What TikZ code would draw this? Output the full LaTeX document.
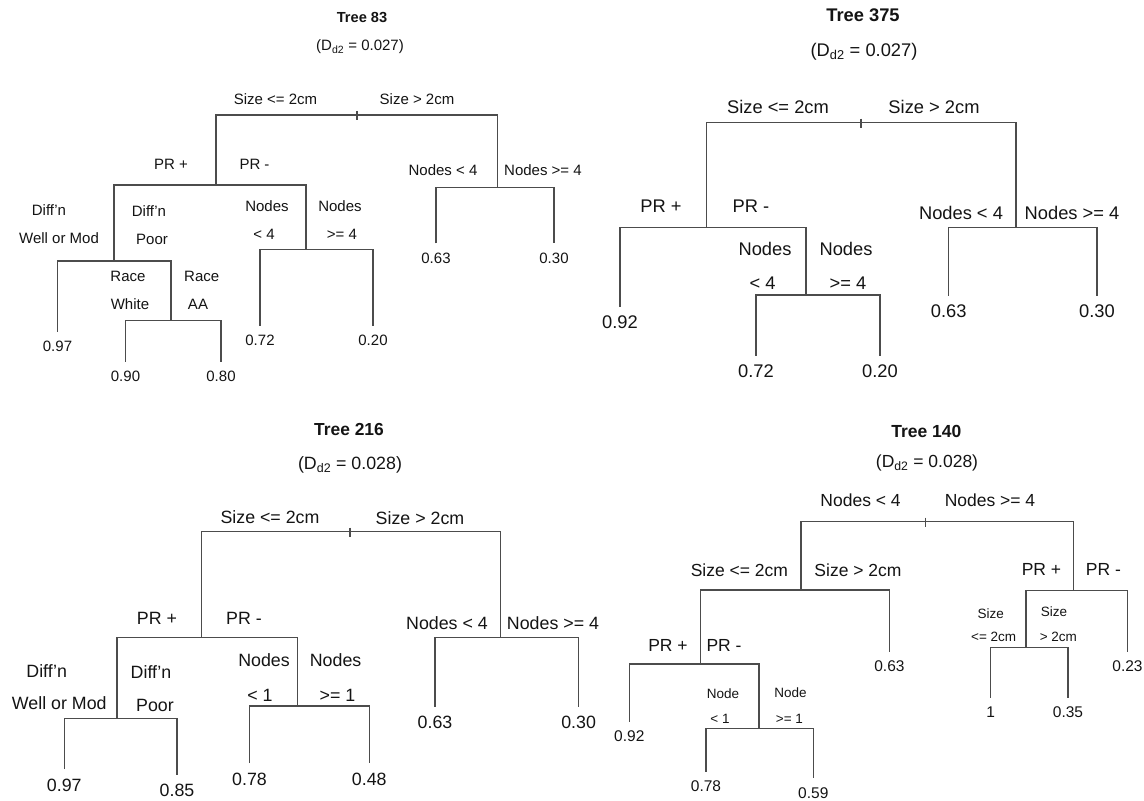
\documentclass[tikz,border=0pt]{standalone}
\usepackage{fontspec}
\setmainfont{Liberation Sans}
\newcommand{\fsz}[1]{\fontsize{#1}{#1}\selectfont}
\definecolor{drawColor}{gray}{0.30}
\definecolor{textColor}{gray}{0.08}
\tikzset{
  split/.style={draw=drawColor, line width=1.3pt},
  lab/.style={text=textColor, inner sep=0pt, outer sep=0pt},
  leaf/.style={lab, anchor=north, outer ysep=9.5pt},
}
\begin{document}
\begin{tikzpicture}[x=1pt,y=1pt]
\path[use as bounding box,fill=white] (0,0) rectangle (1144.00,801.00);

% Tree 83 (top left)
\begin{scope}[font=\fsz{15}]
\node[lab] (h83) at (362.00,783.70) {\fsz{14.6}\bfseries Tree 83};
\node[lab] (d83) at (360.00,754.30) {(D\textsubscript{d2} = 0.027)};

\coordinate (r83) at (357.00,686.00);
\coordinate (pr83) at (216.00,616.00);
\coordinate (nd83) at (497.50,613.30);
\coordinate (df83) at (114.00,540.00);
\coordinate (ns83) at (306.00,551.70);
\coordinate (rc83) at (171.00,480.30);

\node[leaf] (l83a) at ( 57.50,469.20) {0.97};
\node[leaf] (l83b) at (125.50,439.20) {0.90};
\node[leaf] (l83c) at (221.00,439.20) {0.80};
\node[leaf] (l83d) at (260.00,475.20) {0.72};
\node[leaf] (l83e) at (373.00,475.20) {0.20};
\node[leaf] (l83f) at (436.00,557.60) {0.63};
\node[leaf] (l83g) at (554.00,557.60) {0.30};

\draw[split] (pr83) |- (r83) -| (nd83);
\draw[split] ([yshift=4pt]r83) -- ([yshift=-5pt]r83);
\draw[split] (df83) |- (pr83) -| (ns83);
\draw[split] (l83a.north) |- (df83) -| (rc83);
\draw[split] (l83b.north) |- (rc83) -| (l83c.north);
\draw[split] (l83d.north) |- (ns83) -| (l83e.north);
\draw[split] (l83f.north) |- (nd83) -| (l83g.north);

\node[lab] (e83a) at (275.50,701.50) {Size <= 2cm};
\node[lab] (e83b) at (417.00,701.50) {Size > 2cm};
\node[lab] (e83c) at (171.00,637.00) {PR +};
\node[lab] (e83d) at (254.50,637.00) {PR -};
\node[lab] (e83e) at (443.00,631.00) {Nodes < 4};
\node[lab] (e83f) at (543.00,631.00) {Nodes >= 4};
\node[lab] (e83g) at ( 49.00,591.00) {Diff'n};
\node[lab] (e83h) at ( 59.00,562.70) {Well or Mod};
\node[lab] (e83i) at (149.00,590.00) {Diff'n};
\node[lab] (e83j) at (152.00,561.70) {Poor};
\node[lab] (e83k) at (267.00,595.30) {Nodes};
\node[lab] (e83l) at (264.00,566.30) {< 4};
\node[lab] (e83m) at (340.00,595.30) {Nodes};
\node[lab] (e83n) at (342.00,566.30) {>= 4};
\node[lab] (e83o) at (128.00,524.30) {Race};
\node[lab] (e83p) at (130.00,496.70) {White};
\node[lab] (e83q) at (201.70,524.30) {Race};
\node[lab] (e83r) at (198.00,496.70) {AA};
\end{scope}

% Tree 375 (top right)
\begin{scope}[font=\fsz{18.3}]
\node[lab] (h375) at (863.00,786.00) {\bfseries Tree 375};
\node[lab] (d375) at (864.00,749.30) {(D\textsubscript{d2} = 0.027)};

\coordinate (r375) at (861.00,678.30);
\coordinate (pr375) at (706.60,573.30);
\coordinate (nd375) at (1016.00,573.30);
\coordinate (ns375) at (806.00,506.00);

\node[leaf] (l375a) at (620.00,494.40) {0.92};
\node[leaf] (l375b) at (756.00,445.40) {0.72};
\node[leaf] (l375c) at (880.00,445.40) {0.20};
\node[leaf] (l375d) at (948.70,505.40) {0.63};
\node[leaf] (l375e) at (1097.00,505.40) {0.30};

\draw[split] (pr375) |- (r375) -| (nd375);
\draw[split] ([yshift=4pt]r375) -- ([yshift=-5pt]r375);
\draw[split] (l375a.north) |- (pr375) -| (ns375);
\draw[split] (l375b.north) |- (ns375) -| (l375c.north);
\draw[split] (l375d.north) |- (nd375) -| (l375e.north);

\node[lab] (e375a) at (778.00,693.70) {Size <= 2cm};
\node[lab] (e375b) at (934.00,693.70) {Size > 2cm};
\node[lab] (e375c) at (661.00,594.30) {PR +};
\node[lab] (e375d) at (751.00,594.30) {PR -};
\node[lab] (e375e) at (961.00,587.70) {Nodes < 4};
\node[lab] (e375f) at (1072.00,587.70) {Nodes >= 4};
\node[lab] (e375g) at (765.00,551.70) {Nodes};
\node[lab] (e375h) at (762.70,517.70) {< 4};
\node[lab] (e375i) at (846.00,551.70) {Nodes};
\node[lab] (e375j) at (848.00,517.70) {>= 4};
\end{scope}

% Tree 216 (bottom left)
\begin{scope}[font=\fsz{17.8}]
\node[lab] (h216) at (349.00,371.00) {\fsz{17.4}\bfseries Tree 216};
\node[lab] (d216) at (350.00,336.00) {(D\textsubscript{d2} = 0.028)};

\coordinate (r216) at (350.00,269.30);
\coordinate (pr216) at (201.70,163.30);
\coordinate (nd216) at (500.60,163.30);
\coordinate (df216) at (117.00, 82.70);
\coordinate (ns216) at (297.50, 95.00);

\node[leaf] (l216a) at ( 64.30, 31.90) {0.97};
\node[leaf] (l216b) at (177.00, 26.20) {0.85};
\node[leaf] (l216c) at (249.50, 37.90) {0.78};
\node[leaf] (l216d) at (369.30, 37.90) {0.48};
\node[leaf] (l216e) at (435.00, 94.20) {0.63};
\node[leaf] (l216f) at (578.60, 94.20) {0.30};

\draw[split] (pr216) |- (r216) -| (nd216);
\draw[split] ([yshift=4pt]r216) -- ([yshift=-5pt]r216);
\draw[split] (df216) |- (pr216) -| (ns216);
\draw[split] (l216a.north) |- (df216) -| (l216b.north);
\draw[split] (l216c.north) |- (ns216) -| (l216d.north);
\draw[split] (l216e.north) |- (nd216) -| (l216f.north);

\node[lab] (e216a) at (270.00,284.00) {Size <= 2cm};
\node[lab] (e216b) at (420.00,283.00) {Size > 2cm};
\node[lab] (e216c) at (157.00,182.70) {PR +};
\node[lab] (e216d) at (244.00,182.70) {PR -};
\node[lab] (e216e) at (447.00,177.70) {Nodes < 4};
\node[lab] (e216f) at (553.00,177.70) {Nodes >= 4};
\node[lab] (e216g) at ( 46.70,130.30) {Diff'n};
\node[lab] (e216h) at ( 59.30, 97.70) {Well or Mod};
\node[lab] (e216i) at (151.00,129.30) {Diff'n};
\node[lab] (e216j) at (155.00, 96.00) {Poor};
\node[lab] (e216k) at (264.00,141.00) {Nodes};
\node[lab] (e216l) at (260.00,106.00) {< 1};
\node[lab] (e216m) at (335.60,141.00) {Nodes};
\node[lab] (e216n) at (337.50,106.00) {>= 1};
\end{scope}

% Tree 140 (bottom right)
\begin{scope}[font=\fsz{17.5}]
\node[lab] (h140) at (926.40,369.30) {\bfseries Tree 140};
\node[lab] (d140) at (927.00,337.70) {(D\textsubscript{d2} = 0.028)};

\coordinate (r140) at (925.30,279.30);
\coordinate (sz140) at (801.00,211.00);
\coordinate (pr140) at (1073.50,210.50);
\coordinate (pl140) at (700.50,137.00);
\coordinate (nd140) at (759.00, 72.70);
\coordinate (sm140) at (1026.00,153.70);

\begin{scope}[font=\fsz{15.5}]
\node[leaf] (l140a) at (889.40,149.40) {0.63};
\node[leaf] (l140b) at (629.30, 79.40) {0.92};
\node[leaf] (l140c) at (706.00, 29.40) {0.78};
\node[leaf] (l140d) at (813.30, 22.80) {0.59};
\node[leaf] (l140e) at (1127.50,149.40) {0.23};
\node[leaf] (l140f) at (990.80,103.40) {1};
\node[leaf] (l140g) at (1068.00,103.40) {0.35};
\end{scope}

\draw[split] (sz140) |- (r140) -| (pr140);
\draw[split] ([yshift=4pt]r140) -- ([yshift=-5pt]r140);
\draw[split] (pl140) |- (sz140) -| (l140a.north);
\draw[split] (l140b.north) |- (pl140) -| (nd140);
\draw[split] (l140c.north) |- (nd140) -| (l140d.north);
\draw[split] (sm140) |- (pr140) -| (l140e.north);
\draw[split] (l140f.north) |- (sm140) -| (l140g.north);

\node[lab] (e140a) at (860.60,301.00) {Nodes < 4};
\node[lab] (e140b) at (990.00,301.00) {Nodes >= 4};
\node[lab] (e140c) at (739.40,230.30) {Size <= 2cm};
\node[lab] (e140d) at (858.00,230.30) {Size > 2cm};
\node[lab] (e140e) at (1041.50,231.70) {PR +};
\node[lab] (e140f) at (1103.40,231.70) {PR -};
\node[lab] (e140g) at (668.00,156.00) {PR +};
\node[lab] (e140h) at (724.00,156.00) {PR -};
\begin{scope}[font=\fsz{13.5}]
\node[lab] (e140i) at (723.00,107.70) {Node};
\node[lab] (e140j) at (720.00, 82.50) {< 1};
\node[lab] (e140k) at (790.40,108.00) {Node};
\node[lab] (e140l) at (789.40, 82.50) {>= 1};
\node[lab] (e140m) at (990.80,187.70) {Size};
\node[lab] (e140n) at (993.70,163.70) {<= 2cm};
\node[lab] (e140o) at (1054.00,189.30) {Size};
\node[lab] (e140p) at (1058.40,164.30) {> 2cm};
\end{scope}
\end{scope}
\end{tikzpicture}
\end{document}
